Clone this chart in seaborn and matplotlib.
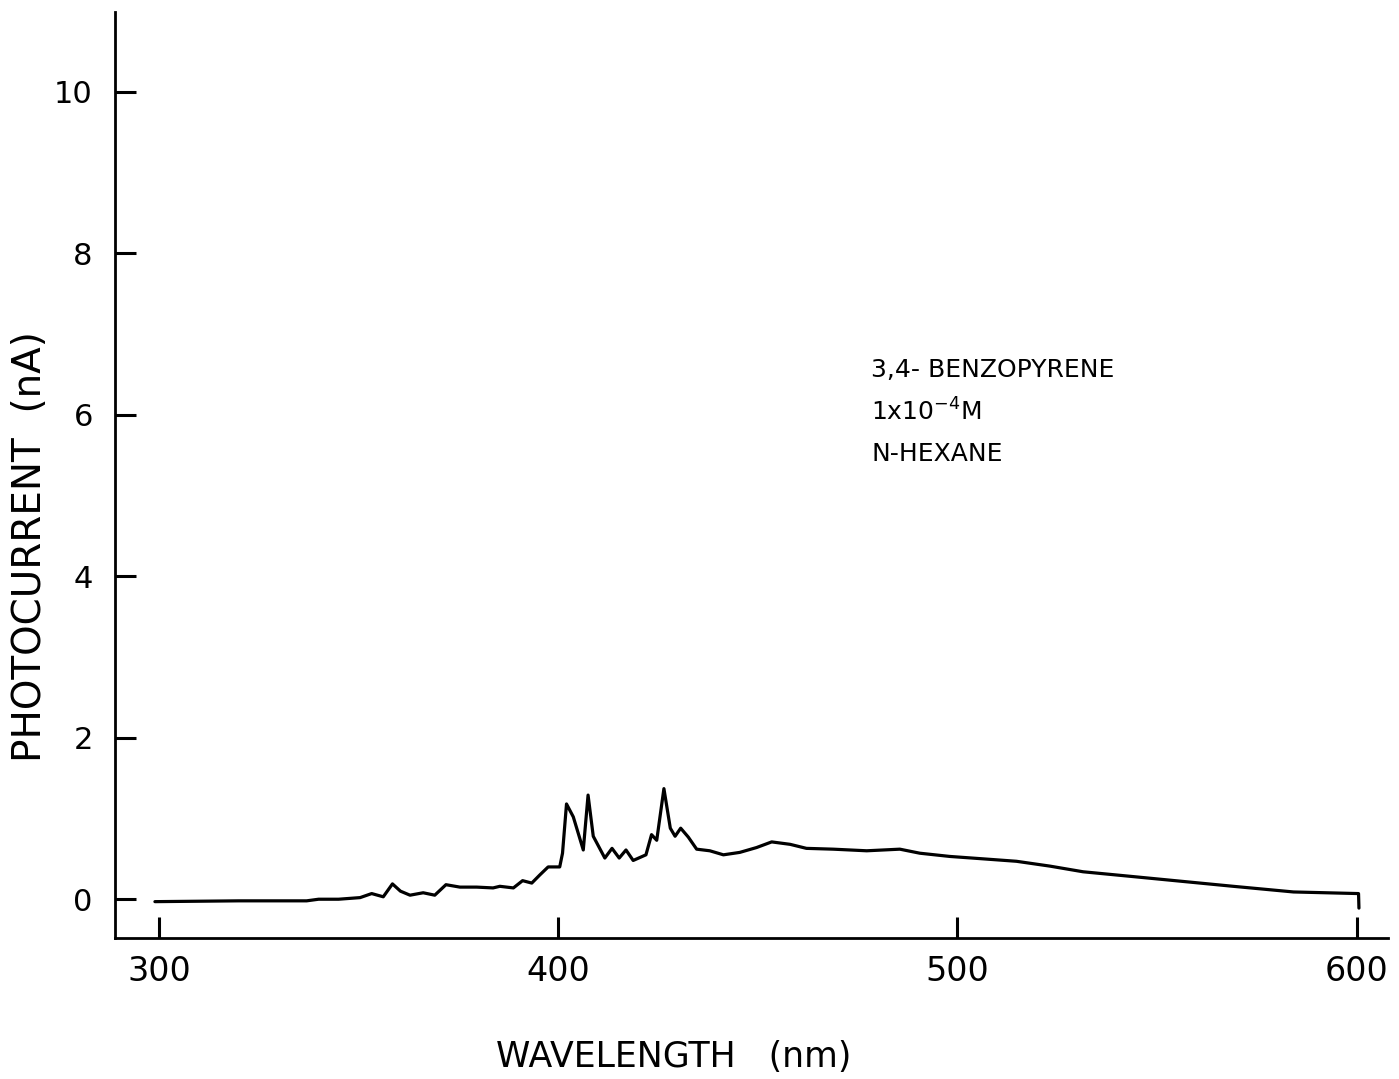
import matplotlib
matplotlib.use("Agg")
import matplotlib.pyplot as plt
import seaborn as sns
import pandas as pd

# Photocurrent spectrum of 3,4-benzopyrene in n-hexane
wavelength_nm = [299, 320, 337, 340, 345, 350.4, 353.3, 356.2, 358.5, 360.5,
                 362.9, 366.2, 369.1, 371.9, 375.4, 379.6, 383.7, 385.4, 388.8, 391.1,
                 393.4, 395.4, 397.5, 400.4, 401.1, 402.1, 403.8, 406.3, 407.5, 408.8,
                 411.7, 413.5, 415.3, 417.0, 418.8, 422.0, 423.4, 424.7, 426.5, 428.1,
                 429.3, 430.7, 432.6, 434.7, 438.0, 441.4, 445.5, 449.7, 453.5, 458.1,
                 462.2, 468.9, 477.3, 485.6, 490.6, 498.1, 506.5, 514.8, 523.2, 531.5,
                 544.1, 556.6, 569.1, 584.2, 600.5, 600.6]
photocurrent_nA = [-0.03, -0.02, -0.02, 0.0, 0.0, 0.02, 0.07, 0.03, 0.19, 0.10,
                   0.05, 0.08, 0.05, 0.18, 0.15, 0.15, 0.14, 0.16, 0.14, 0.23,
                   0.20, 0.30, 0.40, 0.40, 0.57, 1.18, 1.02, 0.61, 1.29, 0.78,
                   0.51, 0.63, 0.51, 0.61, 0.48, 0.55, 0.80, 0.73, 1.37, 0.88,
                   0.78, 0.88, 0.77, 0.62, 0.60, 0.55, 0.58, 0.64, 0.71, 0.68,
                   0.63, 0.62, 0.60, 0.62, 0.57, 0.53, 0.50, 0.47, 0.41, 0.34,
                   0.28, 0.22, 0.16, 0.09, 0.07, -0.11]

x_ticks = [300, 400, 500, 600]
y_ticks = [0, 2, 4, 6, 8, 10]
sample_lines = ["3,4- BENZOPYRENE", "1x10$^{-4}$M", "N-HEXANE"]

sns.set_theme(style="white")
plt.rcParams["font.family"] = ["DejaVu Sans"]

df = pd.DataFrame({"wavelength": wavelength_nm, "current": photocurrent_nA})

fig = plt.figure(figsize=(13.99, 10.79), dpi=100)
ax = fig.add_axes([0.0822, 0.1307, 0.9100, 0.8582])

sns.lineplot(data=df, x="wavelength", y="current", ax=ax, color="black",
             linewidth=2.3, estimator=None, sort=False)

ax.set_xlim(289.0, 607.9)
ax.set_ylim(-0.48, 10.99)
ax.set_xticks(x_ticks)
ax.set_yticks(y_ticks)
ax.set_xticklabels([str(t) for t in x_ticks], fontsize=24)
ax.set_yticklabels([str(t) for t in y_ticks], fontsize=22)

for side in ("top", "right"):
    ax.spines[side].set_visible(False)
for side in ("left", "bottom"):
    ax.spines[side].set_color("black")
    ax.spines[side].set_linewidth(2.0)

ax.tick_params(axis="both", which="major", direction="in", length=15, width=2.2,
               colors="black", bottom=True, left=True, top=False, right=False)
ax.tick_params(axis="x", pad=12)
ax.tick_params(axis="y", pad=16)

ax.set_xlabel("WAVELENGTH   (nm)", fontsize=25, color="black")
ax.xaxis.set_label_coords(0.439, -0.110)
ax.set_ylabel("PHOTOCURRENT  (nA)", fontsize=28, color="black")
ax.yaxis.set_label_coords(-0.052, 0.423)

for i, line in enumerate(sample_lines):
    ax.text(0.594, 0.613 - i * 0.045, line, transform=ax.transAxes,
            fontsize=18, color="black", ha="left", va="center")

ax.grid(False)
fig.savefig("out.png", dpi=100, facecolor="white")
